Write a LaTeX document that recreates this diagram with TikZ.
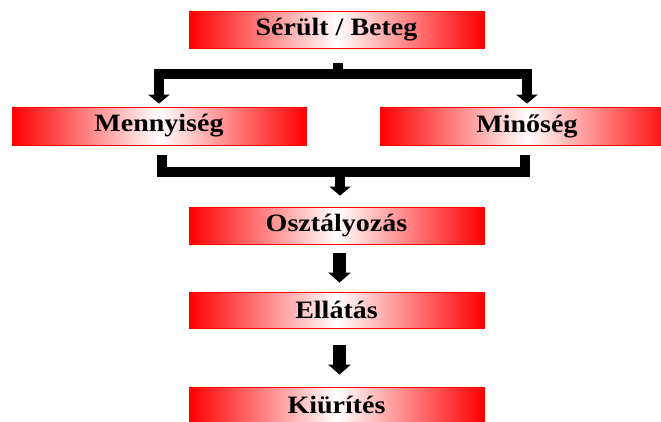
\documentclass[tikz,border=0pt]{standalone}
\usepackage{fontspec}
\setmainfont[FakeStretch=1.12]{Liberation Serif}
\usetikzlibrary{arrows.meta,calc}
\newcommand\gradfill[4]{% x0, x1, ytop, ybottom
  \pgfmathsetmacro\xm{(#1+#2)/2}
  \shade[left color=red, right color=white] (#1,#3) rectangle (\xm+0.3,#4);
  \shade[left color=white, right color=red] (\xm,#3) rectangle (#2,#4);
}
\begin{document}
\begin{tikzpicture}[x=1pt,y=1pt,
  box/.style={rectangle, minimum width=295pt, minimum height=37pt, inner sep=0pt,
    draw=red, line width=0.8pt,
    font=\fontsize{25}{28}\selectfont\bfseries},
  bar/.style={draw=black, line width=10pt, line join=miter, line cap=butt},
  blk/.style={draw=black, line width=13pt, line cap=butt,
    -{Triangle[length=10pt,width=22pt]}},
  tarr/.style={draw=black, line width=10pt, line join=miter, line cap=butt,
    -{Triangle[length=9pt,width=21pt]}}]
\useasboundingbox (0,0) rectangle (661,-421);
\gradfill{189}{484}{-11.5}{-48.5}
\gradfill{12}{306}{-107}{-145}
\gradfill{380}{674}{-107}{-145}
\gradfill{189}{484}{-207}{-244}
\gradfill{189}{484}{-292}{-328}
\gradfill{189}{484}{-387}{-423}
\node[box] (top) at (336.5,-30) {Sérült / Beteg};
\node[box, minimum width=294pt, minimum height=38pt] (m) at (159,-126) {Mennyiség};
\node[box, minimum width=294pt, minimum height=38pt] (mi) at (527,-126) {Minőség};
\node[box] (o) at (336.5,-225.5) {Osztályozás};
\node[box, minimum height=36pt] (e) at (336.5,-310) {Ellátás};
\node[box, minimum height=36pt] (k) at (336.5,-405) {Kiürítés};
% top split
\coordinate (j1) at (338,-79);
\draw[bar] ([xshift=1.5pt,yshift=-14pt]top.south) -- (j1);
\draw[tarr, shorten >=3pt] ([yshift=5pt]j1) -| (m.north);
\draw[tarr, shorten >=3pt] ([yshift=5pt]j1) -| (mi.north);
% merge
\coordinate (j2) at (340,-171.5);
\draw[bar] ([xshift=2.5pt,yshift=-10pt]m.south) |- (j2) -| ([xshift=-2pt,yshift=-10pt]mi.south);
\draw[tarr, shorten >=11pt] ([yshift=5pt]j2) -- (o.north -| j2);
% chain
\draw[blk] ([xshift=3pt,yshift=-9pt]o.south) -- ([xshift=3pt,yshift=9pt]e.north);
\draw[blk] ([xshift=3pt,yshift=-17pt]e.south) -- ([xshift=3pt,yshift=12pt]k.north);
\end{tikzpicture}
\end{document}
